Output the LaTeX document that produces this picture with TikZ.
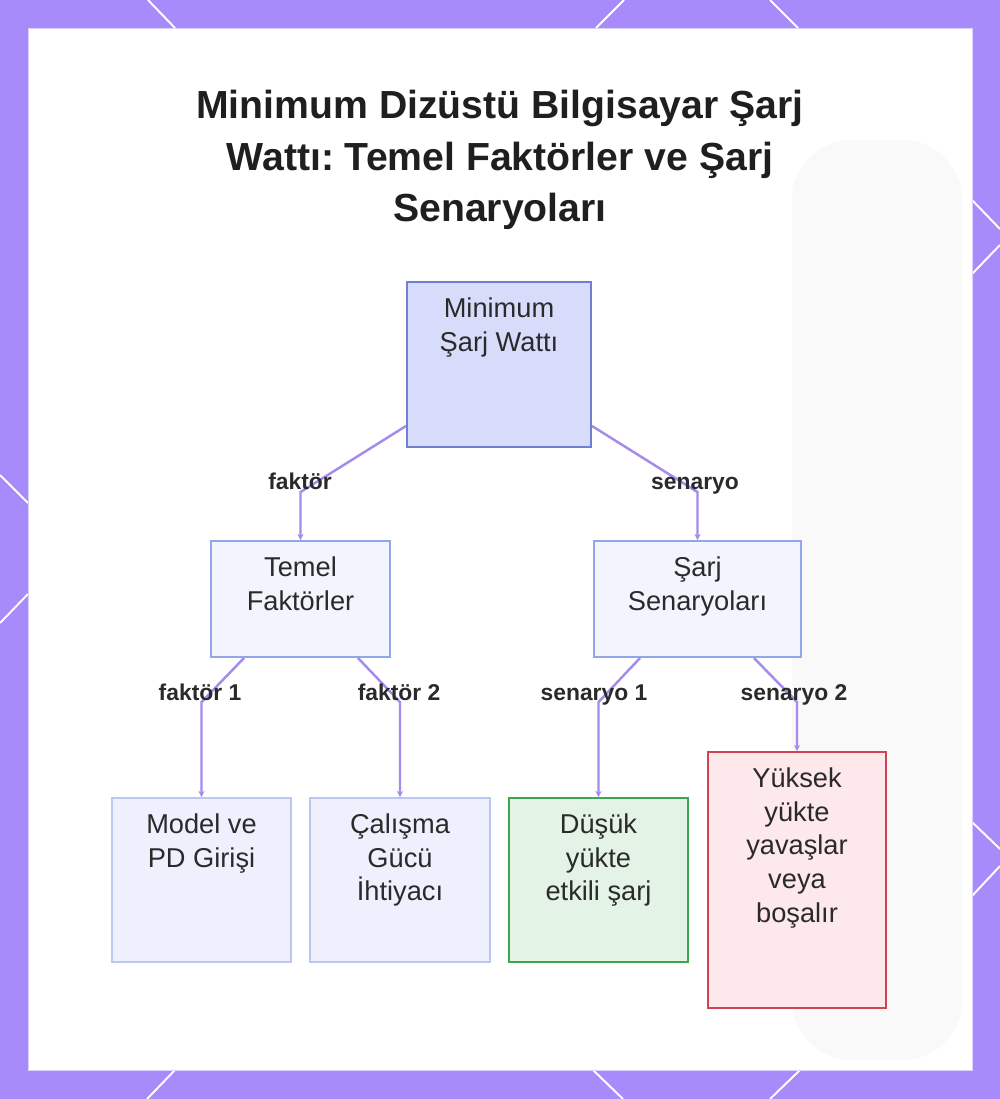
\documentclass[tikz,border=0pt]{standalone}
\usepackage{fontspec}
\setmainfont{Liberation Sans}
\usetikzlibrary{arrows.meta,positioning}

\definecolor{frame}{HTML}{A78BFA}
\definecolor{ink}{HTML}{2A2A2A}
\definecolor{link}{HTML}{A58BEC}
\definecolor{rootfill}{HTML}{D8DCFB}
\definecolor{rootline}{HTML}{6F80D2}
\definecolor{midfill}{HTML}{F3F5FE}
\definecolor{midline}{HTML}{93A6EA}
\definecolor{leaffill}{HTML}{EEF1FD}
\definecolor{leafline}{HTML}{BCC8F2}
\definecolor{goodfill}{HTML}{E3F4E6}
\definecolor{goodline}{HTML}{3DA64E}
\definecolor{badfill}{HTML}{FDE8EB}
\definecolor{badline}{HTML}{CF4352}

\tikzset{
  box/.style={draw, line width=1.1pt, inner sep=0pt},
  rootbox/.style={box, fill=rootfill, draw=rootline},
  midbox/.style={box, fill=midfill, draw=midline},
  leafbox/.style={box, fill=leaffill, draw=leafline},
  goodbox/.style={box, fill=goodfill, draw=goodline},
  badbox/.style={box, fill=badfill, draw=badline},
  boxtext/.style={font=\fontsize{15.5}{19.3}\selectfont, text=ink, align=center, anchor=north, inner sep=0pt},
  edgelabel/.style={font=\bfseries\fontsize{13}{15}\selectfont, text=ink, inner sep=0pt, text height=9.4pt, text depth=2.8pt},
  link/.style={draw=link, line width=1.4pt, -{Stealth[length=3.5pt,width=3.5pt]}},
  cut/.style={draw=white, line width=1.1pt}
}

\begin{document}
\frenchspacing
\begin{tikzpicture}[x=0.02cm, y=-0.02cm]
  \useasboundingbox (0,0) rectangle (1000,1099);
  \fill[frame] (0,0) rectangle (1000,1099);

  \draw[cut] (148,0) -- (175,28);
  \draw[cut] (624,0) -- (596,28);
  \draw[cut] (770,0) -- (798,28);
  \draw[cut] (0,475) -- (28,503);
  \draw[cut] (0,623) -- (28,594);
  \draw[cut] (972,200) -- (1000,229);
  \draw[cut] (1000,245) -- (972,274);
  \draw[cut] (972,822) -- (1000,849);
  \draw[cut] (1000,866) -- (972,896);
  \draw[cut] (175,1070) -- (147,1099);
  \draw[cut] (593,1070) -- (623,1099);
  \draw[cut] (800,1070) -- (770,1099);

  \fill[white] (28,28) rectangle (972,1070);
  \draw[frame!40, line width=0.4pt] (28,28) rectangle (972,1070);
  \fill[black!2.5, rounded corners=1.2cm] (792,140) rectangle (962,1060);

  \node[font=\bfseries\fontsize{22.3}{29.2}\selectfont, text=black!88, align=center] (title) at (500,160)
    {Minimum Dizüstü Bilgisayar Şarj\\Wattı: Temel Faktörler ve Şarj\\Senaryoları};

  \node[rootbox, minimum width=3.68cm, minimum height=3.3cm] (root) at (499,364.5) {};
  \node[midbox, minimum width=3.58cm, minimum height=2.32cm] (tf) at (300.5,599) {};
  \node[midbox, minimum width=4.14cm, minimum height=2.32cm] (ss) at (697.5,599) {};
  \node[leafbox, minimum width=3.58cm, minimum height=3.28cm] (model) at (201.5,880) {};
  \node[leafbox, minimum width=3.6cm, minimum height=3.28cm] (need) at (400,880) {};
  \node[goodbox, minimum width=3.58cm, minimum height=3.28cm] (low) at (598.5,880) {};
  \node[badbox, minimum width=3.56cm, minimum height=5.12cm] (high) at (797,880) {};

  \node[boxtext] (root-t) at ([yshift=-0.32cm]root.north) {Minimum\\Şarj Wattı};
  \node[boxtext] (tf-t) at ([yshift=-0.32cm]tf.north) {Temel\\Faktörler};
  \node[boxtext] (ss-t) at ([yshift=-0.32cm]ss.north) {Şarj\\Senaryoları};
  \node[boxtext] (model-t) at ([yshift=-0.32cm]model.north) {Model ve\\PD Girişi};
  \node[boxtext] (need-t) at ([yshift=-0.32cm]need.north) {Çalışma\\Gücü\\İhtiyacı};
  \node[boxtext] (low-t) at ([yshift=-0.32cm]low.north) {Düşük\\yükte\\etkili şarj};
  \node[boxtext] (high-t) at ([yshift=-0.32cm]high.north) {Yüksek\\yükte\\yavaşlar\\veya\\boşalır};

  \draw[link] ([yshift=0.44cm]root.south west) -- ([yshift=0.96cm]tf.north) -- (tf.north);
  \draw[link] ([yshift=0.44cm]root.south east) -- ([yshift=0.96cm]ss.north) -- (ss.north);
  \draw[link] ([xshift=0.68cm]tf.south west) -- ([yshift=1.9cm]model.north) -- (model.north);
  \draw[link] ([xshift=-0.66cm]tf.south east) -- ([yshift=1.9cm]need.north) -- (need.north);
  \draw[link] ([xshift=0.94cm]ss.south west) -- ([yshift=1.9cm]low.north) -- (low.north);
  \draw[link] ([xshift=-0.96cm]ss.south east) -- ([yshift=0.98cm]high.north) -- (high.north);

  \node[edgelabel] (l-tf) at (300,484) {faktör};
  \node[edgelabel] (l-ss) at (695,484) {senaryo};
  \node[edgelabel] (l-model) at (200,695) {faktör 1};
  \node[edgelabel] (l-need) at (399,695) {faktör 2};
  \node[edgelabel] (l-low) at (594,695) {senaryo 1};
  \node[edgelabel] (l-high) at (794,695) {senaryo 2};
\end{tikzpicture}
\end{document}
